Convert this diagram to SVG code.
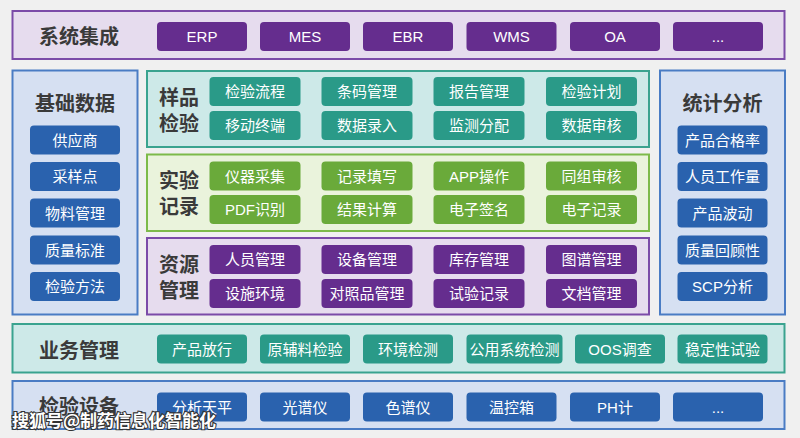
<svg xmlns="http://www.w3.org/2000/svg" width="800" height="438" viewBox="0 0 800 438">
<style>
text{font-family:"Liberation Sans","Noto Sans CJK SC",sans-serif;text-anchor:middle;dominant-baseline:central}
.t{font-family:"Noto Sans CJK SC",sans-serif;font-size:20px;font-weight:bold;fill:#3a3a3a}
.b{font-size:15px;fill:#fff}
.pp{fill:#E6DCEE;stroke:#7B4BA8;stroke-width:2}
.pb{fill:#D6E0F2;stroke:#4A7CC4;stroke-width:2}
.pt{fill:#CDE9E8;stroke:#3AA38F;stroke-width:2}
.pg{fill:#EAF3DC;stroke:#7DBA4A;stroke-width:2}
.bp{fill:#652D8E}
.bb{fill:#2A62AE}
.bt{fill:#2A9A88}
.bg{fill:#6AAA3A}
.wm{font-family:"Noto Sans CJK SC",sans-serif;font-size:17px;fill:#fff;stroke:#333;stroke-width:2.2;paint-order:stroke;text-anchor:start;font-weight:bold}
</style>
<rect width="800" height="438" fill="#F0F0F0"/>

<g id="sys">
<rect class="pp" x="12.5" y="11" width="772" height="48"/>
<text class="t" x="79" y="35">系统集成</text>
<rect class="bp" x="157" y="22" width="90" height="29" rx="4"/><text class="b" x="202" y="36.5">ERP</text>
<rect class="bp" x="260" y="22" width="90" height="29" rx="4"/><text class="b" x="305" y="36.5">MES</text>
<rect class="bp" x="363" y="22" width="90" height="29" rx="4"/><text class="b" x="408" y="36.5">EBR</text>
<rect class="bp" x="466.5" y="22" width="90" height="29" rx="4"/><text class="b" x="511.5" y="36.5">WMS</text>
<rect class="bp" x="570" y="22" width="90" height="29" rx="4"/><text class="b" x="615" y="36.5">OA</text>
<rect class="bp" x="673" y="22" width="90" height="29" rx="4"/><text class="b" x="718" y="36.5">...</text>
</g>

<g id="basic">
<rect class="pb" x="12.5" y="70.5" width="125" height="244"/>
<text class="t" x="75" y="102">基础数据</text>
<rect class="bb" x="30" y="125.5" width="90" height="29" rx="4"/><text class="b" x="75" y="140">供应商</text>
<rect class="bb" x="30" y="162" width="90" height="29" rx="4"/><text class="b" x="75" y="176.5">采样点</text>
<rect class="bb" x="30" y="198.5" width="90" height="29" rx="4"/><text class="b" x="75" y="213">物料管理</text>
<rect class="bb" x="30" y="235.5" width="90" height="29" rx="4"/><text class="b" x="75" y="250">质量标准</text>
<rect class="bb" x="30" y="272" width="90" height="29" rx="4"/><text class="b" x="75" y="286.5">检验方法</text>
</g>

<g id="sample">
<rect class="pt" x="147" y="71" width="502" height="76"/>
<text class="t" x="179" y="96.5">样品</text>
<text class="t" x="179" y="122.5">检验</text>
<rect class="bt" x="209.5" y="77" width="91" height="29" rx="4"/><text class="b" x="255" y="91.5">检验流程</text>
<rect class="bt" x="321.5" y="77" width="91" height="29" rx="4"/><text class="b" x="367" y="91.5">条码管理</text>
<rect class="bt" x="433.5" y="77" width="91" height="29" rx="4"/><text class="b" x="479" y="91.5">报告管理</text>
<rect class="bt" x="546" y="77" width="91" height="29" rx="4"/><text class="b" x="591.5" y="91.5">检验计划</text>
<rect class="bt" x="209.5" y="111" width="91" height="29" rx="4"/><text class="b" x="255" y="125.5">移动终端</text>
<rect class="bt" x="321.5" y="111" width="91" height="29" rx="4"/><text class="b" x="367" y="125.5">数据录入</text>
<rect class="bt" x="433.5" y="111" width="91" height="29" rx="4"/><text class="b" x="479" y="125.5">监测分配</text>
<rect class="bt" x="546" y="111" width="91" height="29" rx="4"/><text class="b" x="591.5" y="125.5">数据审核</text>
</g>

<g id="record">
<rect class="pg" x="147" y="154.5" width="502" height="76.5"/>
<text class="t" x="179" y="179.5">实验</text>
<text class="t" x="179" y="205.5">记录</text>
<rect class="bg" x="209.5" y="161.5" width="91" height="29" rx="4"/><text class="b" x="255" y="176">仪器采集</text>
<rect class="bg" x="321.5" y="161.5" width="91" height="29" rx="4"/><text class="b" x="367" y="176">记录填写</text>
<rect class="bg" x="433.5" y="161.5" width="91" height="29" rx="4"/><text class="b" x="479" y="176">APP操作</text>
<rect class="bg" x="546" y="161.5" width="91" height="29" rx="4"/><text class="b" x="591.5" y="176">同组审核</text>
<rect class="bg" x="209.5" y="195" width="91" height="29" rx="4"/><text class="b" x="255" y="209.5">PDF识别</text>
<rect class="bg" x="321.5" y="195" width="91" height="29" rx="4"/><text class="b" x="367" y="209.5">结果计算</text>
<rect class="bg" x="433.5" y="195" width="91" height="29" rx="4"/><text class="b" x="479" y="209.5">电子签名</text>
<rect class="bg" x="546" y="195" width="91" height="29" rx="4"/><text class="b" x="591.5" y="209.5">电子记录</text>
</g>

<g id="resource">
<rect class="pp" x="147" y="238" width="502" height="76.5"/>
<text class="t" x="179" y="263.5">资源</text>
<text class="t" x="179" y="289.5">管理</text>
<rect class="bp" x="209.5" y="245" width="91" height="29" rx="4"/><text class="b" x="255" y="259.5">人员管理</text>
<rect class="bp" x="321.5" y="245" width="91" height="29" rx="4"/><text class="b" x="367" y="259.5">设备管理</text>
<rect class="bp" x="433.5" y="245" width="91" height="29" rx="4"/><text class="b" x="479" y="259.5">库存管理</text>
<rect class="bp" x="546" y="245" width="91" height="29" rx="4"/><text class="b" x="591.5" y="259.5">图谱管理</text>
<rect class="bp" x="209.5" y="279" width="91" height="29" rx="4"/><text class="b" x="255" y="293.5">设施环境</text>
<rect class="bp" x="321.5" y="279" width="91" height="29" rx="4"/><text class="b" x="367" y="293.5">对照品管理</text>
<rect class="bp" x="433.5" y="279" width="91" height="29" rx="4"/><text class="b" x="479" y="293.5">试验记录</text>
<rect class="bp" x="546" y="279" width="91" height="29" rx="4"/><text class="b" x="591.5" y="293.5">文档管理</text>
</g>

<g id="stat">
<rect class="pb" x="660" y="70.5" width="125" height="244"/>
<text class="t" x="722.5" y="102.5">统计分析</text>
<rect class="bb" x="677.5" y="125.5" width="90" height="29" rx="4"/><text class="b" x="722.5" y="140">产品合格率</text>
<rect class="bb" x="677.5" y="162" width="90" height="29" rx="4"/><text class="b" x="722.5" y="176.5">人员工作量</text>
<rect class="bb" x="677.5" y="198.5" width="90" height="29" rx="4"/><text class="b" x="722.5" y="213">产品波动</text>
<rect class="bb" x="677.5" y="235.5" width="90" height="29" rx="4"/><text class="b" x="722.5" y="250">质量回顾性</text>
<rect class="bb" x="677.5" y="272" width="90" height="29" rx="4"/><text class="b" x="722.5" y="286.5">SCP分析</text>
</g>

<g id="biz">
<rect class="pt" x="12.5" y="324" width="772" height="48.5"/>
<text class="t" x="79" y="349">业务管理</text>
<rect class="bt" x="157" y="334.5" width="90" height="29" rx="4"/><text class="b" x="202" y="349">产品放行</text>
<rect class="bt" x="260" y="334.5" width="90" height="29" rx="4"/><text class="b" x="305" y="349">原辅料检验</text>
<rect class="bt" x="363" y="334.5" width="90" height="29" rx="4"/><text class="b" x="408" y="349">环境检测</text>
<rect class="bt" x="466.5" y="334.5" width="96" height="29" rx="4"/><text class="b" x="514.5" y="349">公用系统检测</text>
<rect class="bt" x="575" y="334.5" width="90" height="29" rx="4"/><text class="b" x="620" y="349">OOS调查</text>
<rect class="bt" x="677.5" y="334.5" width="90" height="29" rx="4"/><text class="b" x="722.5" y="349">稳定性试验</text>
</g>

<g id="equip">
<rect class="pb" x="12.5" y="381" width="772" height="48"/>
<text class="t" x="79" y="405">检验设备</text>
<rect class="bb" x="157" y="392.5" width="90" height="29" rx="4"/><text class="b" x="202" y="407">分析天平</text>
<rect class="bb" x="260" y="392.5" width="90" height="29" rx="4"/><text class="b" x="305" y="407">光谱仪</text>
<rect class="bb" x="363" y="392.5" width="90" height="29" rx="4"/><text class="b" x="408" y="407">色谱仪</text>
<rect class="bb" x="466.5" y="392.5" width="90" height="29" rx="4"/><text class="b" x="511.5" y="407">温控箱</text>
<rect class="bb" x="570" y="392.5" width="90" height="29" rx="4"/><text class="b" x="615" y="407">PH计</text>
<rect class="bb" x="673" y="392.5" width="90" height="29" rx="4"/><text class="b" x="718" y="407">...</text>
</g>

<g id="connectors"></g>

<text class="wm" x="12" y="419">搜狐号@制药信息化智能化</text>
</svg>
